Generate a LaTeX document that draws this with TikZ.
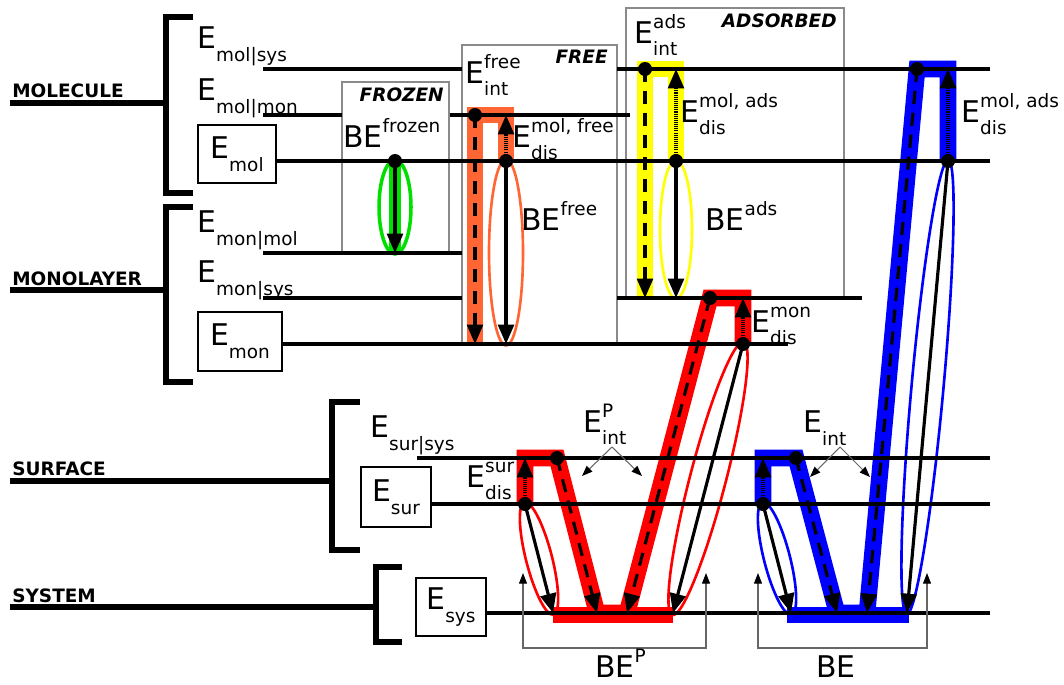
\documentclass[tikz,border=0pt]{standalone}
\usepackage{fontspec}
\setmainfont{DejaVu Sans}
\usetikzlibrary{arrows.meta}
\definecolor{frzgreen}{HTML}{00E000}
\definecolor{freorange}{HTML}{FF6633}
\definecolor{adsyellow}{HTML}{FFFF00}
\definecolor{pred}{HTML}{FF0000}
\definecolor{fblue}{HTML}{0000FF}
\definecolor{framegray}{HTML}{8A8A8A}
% small indices set beside a big E
\newcommand{\Edn}[1]{{\fontsize{10.5}{12}\selectfont\raisebox{-7.5pt}{#1}}}
\newcommand{\Eup}[1]{{\fontsize{10.5}{12}\selectfont\raisebox{8.5pt}{#1}}}
\newcommand{\Eud}[2]{{\fontsize{10.5}{12}\selectfont\rlap{\raisebox{8.5pt}{#1}}\raisebox{-7pt}{#2}}}
\tikzset{
  lvl/.style={line width=2pt},
  cat/.style={line width=3.2pt},
  frame/.style={draw=framegray,line width=1.3pt},
  band/.style={line width=9.5pt},
  ell/.style={line width=1.5pt},
  sld/.style={->,line width=1.8pt},
  dsh/.style={->,line width=1.8pt,dash pattern=on 7.5pt off 5pt},
  dts/.style={->,line width=1.8pt,dash pattern=on 0.6pt off 0.6pt},
  thinarr/.style={draw=black!60,line width=0.6pt,-{Triangle[width=4.5pt,length=6pt,color=black]}},
  lbl/.style={font=\fontsize{17}{20}\selectfont,inner sep=0pt,anchor=base west},
  catlbl/.style={font=\fontsize{10.5}{12}\selectfont\bfseries,inner sep=0pt,anchor=base west},
  tag/.style={font=\fontsize{10.5}{12}\selectfont\bfseries\itshape,inner sep=0pt,anchor=base east},
  ebox/.style={draw,line width=1.5pt,inner sep=0pt,font=\fontsize{17}{20}\selectfont},
}
\begin{document}
\begin{tikzpicture}[x=0.02cm,y=-0.02cm,line cap=butt,line join=miter,>={Triangle[width=9pt,length=11pt]}]
\useasboundingbox (0,0) rectangle (1064,684);
% points of the cycles
\coordinate (frz1) at (395,161);  \coordinate (frz2) at (395,253);
\coordinate (fre1) at (475,115);  \coordinate (fre2) at (475,344);
\coordinate (fre3) at (506,161);  \coordinate (fre4) at (506,115);
\coordinate (fre5) at (506,344);
\coordinate (ads1) at (645,69);   \coordinate (ads2) at (645,298);
\coordinate (ads3) at (676,161);  \coordinate (ads4) at (676,69);
\coordinate (ads5) at (676,298);
\coordinate (mon1) at (710,298);  \coordinate (mon2) at (627,613);
\coordinate (mon3) at (743,344);  \coordinate (mon4) at (743,298);
\coordinate (mon5) at (673,613);
\coordinate (sur1) at (557,458);  \coordinate (sur2) at (597,613);
\coordinate (sur3) at (525,504);  \coordinate (sur4) at (525,458);
\coordinate (sur5) at (553,613);
\coordinate (bsr1) at (796,458);  \coordinate (bsr2) at (837,613);
\coordinate (bsr3) at (763,504);  \coordinate (bsr4) at (763,458);
\coordinate (bsr5) at (791,613);
\coordinate (bml1) at (917,69);   \coordinate (bml2) at (867,613);
\coordinate (bml3) at (948,161);  \coordinate (bml4) at (948,69);
\coordinate (bml5) at (907,613);

% frames
\draw[frame] (342,82) rectangle (449,253);
\draw[frame] (462,45) rectangle (617,344);
\draw[frame] (626,8) rectangle (844,298);
\node[tag] (tfrz) at (444,101) {FROZEN};
\node[tag] (tfre) at (608,63) {FREE};
\node[tag] (tads) at (837,27) {ADSORBED};

% groups
\draw[cat] (10,103) -- (166,103);
\draw[cat] (193,17) -- (166,17) -- (166,193) -- (193,193);
\draw[cat] (10,290) -- (166,290);
\draw[cat] (193,207) -- (166,207) -- (166,382) -- (193,382);
\draw[cat] (10,481) -- (332,481);
\draw[cat] (360,402) -- (332,402) -- (332,550) -- (360,550);
\draw[cat] (10,607) -- (376,607);
\draw[cat] (402,567) -- (376,567) -- (376,642) -- (402,642);
\node[catlbl] (cmol) at (12,97) {MOLECULE};
\node[catlbl] (cmon) at (12,285) {MONOLAYER};
\node[catlbl] (csur) at (12,475) {SURFACE};
\node[catlbl] (csys) at (12,602) {SYSTEM};

% coloured paths
\draw[band,frzgreen,line width=7pt] (frz1) -- (frz2);
\draw[band,freorange] (fre2) -- (fre1) -- (fre4) -- (fre3);
\draw[band,adsyellow] (ads2) -- (ads1) -- (ads4) -- (ads3);
\draw[band,pred] (sur3) -- (sur4) -- (sur1) -- (sur2) -- (mon2) -- (mon1) -- (mon4) -- (mon3);
\draw[band,pred] (553,615) -- (673,615);
\draw[band,fblue] (bsr3) -- (bsr4) -- (bsr1) -- (bsr2) -- (bml2) -- (bml1) -- (bml4) -- (bml3);
\draw[band,fblue] (787,615) -- (909,615);
\draw[ell,frzgreen,line width=2pt] (395,207) ellipse [x radius=16,y radius=47];
\draw[ell,freorange] (506,252.5) ellipse [x radius=17,y radius=93];
\draw[ell,adsyellow] (676,229.5) ellipse [x radius=16,y radius=69];
\draw[ell,pred] (539,558.5) ellipse [x radius=13,y radius=58,rotate=14.4];
\draw[ell,pred] (708,478.5) ellipse [x radius=18,y radius=141,rotate=-14.6];
\draw[ell,fblue] (777,558.5) ellipse [x radius=13,y radius=58,rotate=14.4];
\draw[ell,fblue] (927.5,387) ellipse [x radius=16,y radius=228,rotate=-5.2];

% boxes
\node[ebox,minimum width=1.56cm,minimum height=1.16cm] (bmol) at (237,154) {E\Edn{mol}};
\node[ebox,minimum width=1.68cm,minimum height=1.18cm] (bmon) at (240,341.5) {E\Edn{mon}};
\node[ebox,minimum width=1.4cm,minimum height=1.2cm] (bsur) at (396,497) {E\Edn{sur}};
\node[ebox,minimum width=1.4cm,minimum height=1.16cm] (bsys) at (451,607) {E\Edn{sys}};

% levels
\draw[lvl] (263,69) -- (462,69) (617,69) -- (990,69);
\draw[lvl] (263,115) -- (342,115) (450,115) -- (630,115);
\draw[lvl] (bmol.east |- 0,161) -- (990,161);
\draw[lvl] (263,253) -- (462,253);
\draw[lvl] (263,298) -- (462,298) (617,298) -- (862,298);
\draw[lvl] (bmon.east |- 0,344) -- (788,344);
\draw[lvl] (417,458) -- (990,458);
\draw[lvl] (bsur.east |- 0,504) -- (990,504);
\draw[lvl] (bsys.east |- 0,613) -- (990,613);

% arrows
\draw[sld] (frz1) -- (frz2);
\draw[dsh] (fre1) -- (fre2);
\draw[dts] (fre3) -- (fre4);
\draw[sld] (fre3) -- (fre5);
\draw[dsh] (ads1) -- (ads2);
\draw[dts] (ads3) -- (ads4);
\draw[sld] (ads3) -- (ads5);
\draw[dsh] (mon1) -- (mon2);
\draw[dts] (mon3) -- (mon4);
\draw[sld] (mon3) -- (mon5);
\draw[dsh] (sur1) -- (sur2);
\draw[dts] (sur3) -- (sur4);
\draw[sld] (sur3) -- (sur5);
\draw[dsh] (bsr1) -- (bsr2);
\draw[dts] (bsr3) -- (bsr4);
\draw[sld] (bsr3) -- (bsr5);
\draw[dsh] (bml1) -- (bml2);
\draw[dts] (bml3) -- (bml4);
\draw[sld] (bml3) -- (bml5);
\foreach \p in {frz1,fre1,fre3,ads1,ads3,mon1,mon3,sur1,sur3,bsr1,bsr3,bml1,bml3}
  \fill (\p) circle [radius=7];

% level labels
\node[lbl] (lmolsys) at (197,48) {E\Edn{mol|sys}};
\node[lbl] (lmolmon) at (197,100) {E\Edn{mol|mon}};
\node[lbl] (lmonmol) at (197,232) {E\Edn{mon|mol}};
\node[lbl] (lmonsys) at (197,282) {E\Edn{mon|sys}};
\node[lbl] (lsursys) at (370,437) {E\Edn{sur|sys}};
\node[lbl] (lbefrz) at (343,147) {BE\Eup{frozen}};
\node[lbl] (lintfre) at (465,83) {E\Eud{free}{int}};
\node[lbl] (ldisfre) at (512,147) {E\Eud{mol, free}{dis}};
\node[lbl] (lbefre) at (521,230) {BE\Eup{free}};
\node[lbl] (lintads) at (634,43) {E\Eud{ads}{int}};
\node[lbl] (ldisads) at (680,122) {E\Eud{mol, ads}{dis}};
\node[lbl] (lbeads) at (705,230) {BE\Eup{ads}};
\node[lbl] (ldismon) at (751,332) {E\Eud{mon}{dis}};
\node[lbl] (ldisads2) at (961,122) {E\Eud{mol, ads}{dis}};
\node[lbl] (lintp) at (583,432) {E\Eud{P}{int}};
\node[lbl] (ldissur) at (466,487) {E\Eud{sur}{dis}};
\node[lbl] (lint) at (803,432) {E\Edn{int}};

% interaction pointers
\coordinate (ipa) at (612,447);
\draw[thinarr] (ipa) -- (582,476);
\draw[thinarr] (ipa) -- (642,476);
\coordinate (ia) at (840,447);
\draw[thinarr] (ia) -- (810,477);
\draw[thinarr] (ia) -- (870,477);

% binding energy brackets
\coordinate (bpl) at (523,573); \coordinate (bpr) at (706,573);
\draw[thinarr,{Triangle[width=4.5pt,length=6pt,color=black]}-{Triangle[width=4.5pt,length=6pt,color=black]}]
  (bpl) -- (bpl |- 0,648) -- (bpr |- 0,648) -- (bpr);
\coordinate (bel) at (758,573); \coordinate (ber) at (927,573);
\draw[thinarr,{Triangle[width=4.5pt,length=6pt,color=black]}-{Triangle[width=4.5pt,length=6pt,color=black]}]
  (bel) -- (bel |- 0,648) -- (ber |- 0,648) -- (ber);
\node[lbl] (lbep) at (595,677) {BE\Eup{P}};
\node[lbl] (lbe) at (816,677) {BE};
\end{tikzpicture}
\end{document}
